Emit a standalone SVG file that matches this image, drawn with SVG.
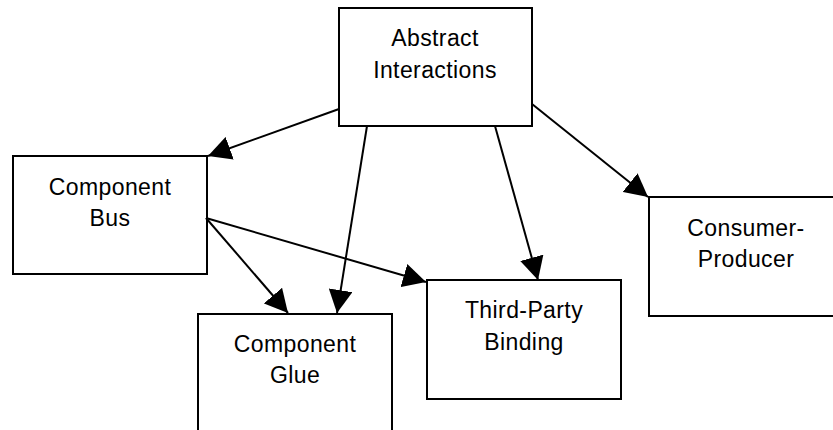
<svg xmlns="http://www.w3.org/2000/svg" width="833" height="430" viewBox="0 0 833 430">
  <defs>
    <style>
      .box { fill: #ffffff; stroke: #000000; stroke-width: 2; }
      .label { font-family: "Liberation Sans", Arial, sans-serif; font-size: 23px; fill: #000000; text-anchor: middle; letter-spacing: 0.4px; }
      .edge { stroke: #000000; stroke-width: 2; fill: none; marker-end: url(#arrow); }
    </style>
    <marker id="arrow" markerUnits="userSpaceOnUse" markerWidth="23" markerHeight="24" refX="23" refY="12" orient="auto">
      <path d="M0,0 L23,12 L0,24 z" fill="#000000"/>
    </marker>
  </defs>
  <rect width="833" height="430" fill="#ffffff"/>

  <g id="node-abstract-interactions">
    <rect class="box" x="339" y="8" width="193" height="118"/>
    <text class="label" x="435" y="46">Abstract</text>
    <text class="label" x="435" y="78">Interactions</text>
  </g>

  <g id="node-component-bus">
    <rect class="box" x="13" y="156" width="194" height="118"/>
    <text class="label" x="110" y="195">Component</text>
    <text class="label" x="110" y="226">Bus</text>
  </g>

  <g id="node-component-glue">
    <rect class="box" x="198" y="314" width="194" height="118"/>
    <text class="label" x="295" y="352">Component</text>
    <text class="label" x="295" y="383">Glue</text>
  </g>

  <g id="node-third-party-binding">
    <rect class="box" x="427" y="280" width="194" height="119"/>
    <text class="label" x="524" y="318">Third-Party</text>
    <text class="label" x="524" y="350">Binding</text>
  </g>

  <g id="node-consumer-producer">
    <rect class="box" x="649" y="197" width="194" height="119"/>
    <text class="label" x="746" y="236">Consumer-</text>
    <text class="label" x="746" y="267">Producer</text>
  </g>

  <g id="connectors">
    <line class="edge" x1="339" y1="109" x2="208" y2="156"/>
    <line class="edge" x1="367" y1="126" x2="337" y2="313"/>
    <line class="edge" x1="495" y1="126" x2="538" y2="280"/>
    <line class="edge" x1="532" y1="104" x2="648" y2="197"/>
    <line class="edge" x1="206" y1="218" x2="288" y2="313"/>
    <line class="edge" x1="206" y1="218" x2="426" y2="282"/>
  </g>
</svg>
